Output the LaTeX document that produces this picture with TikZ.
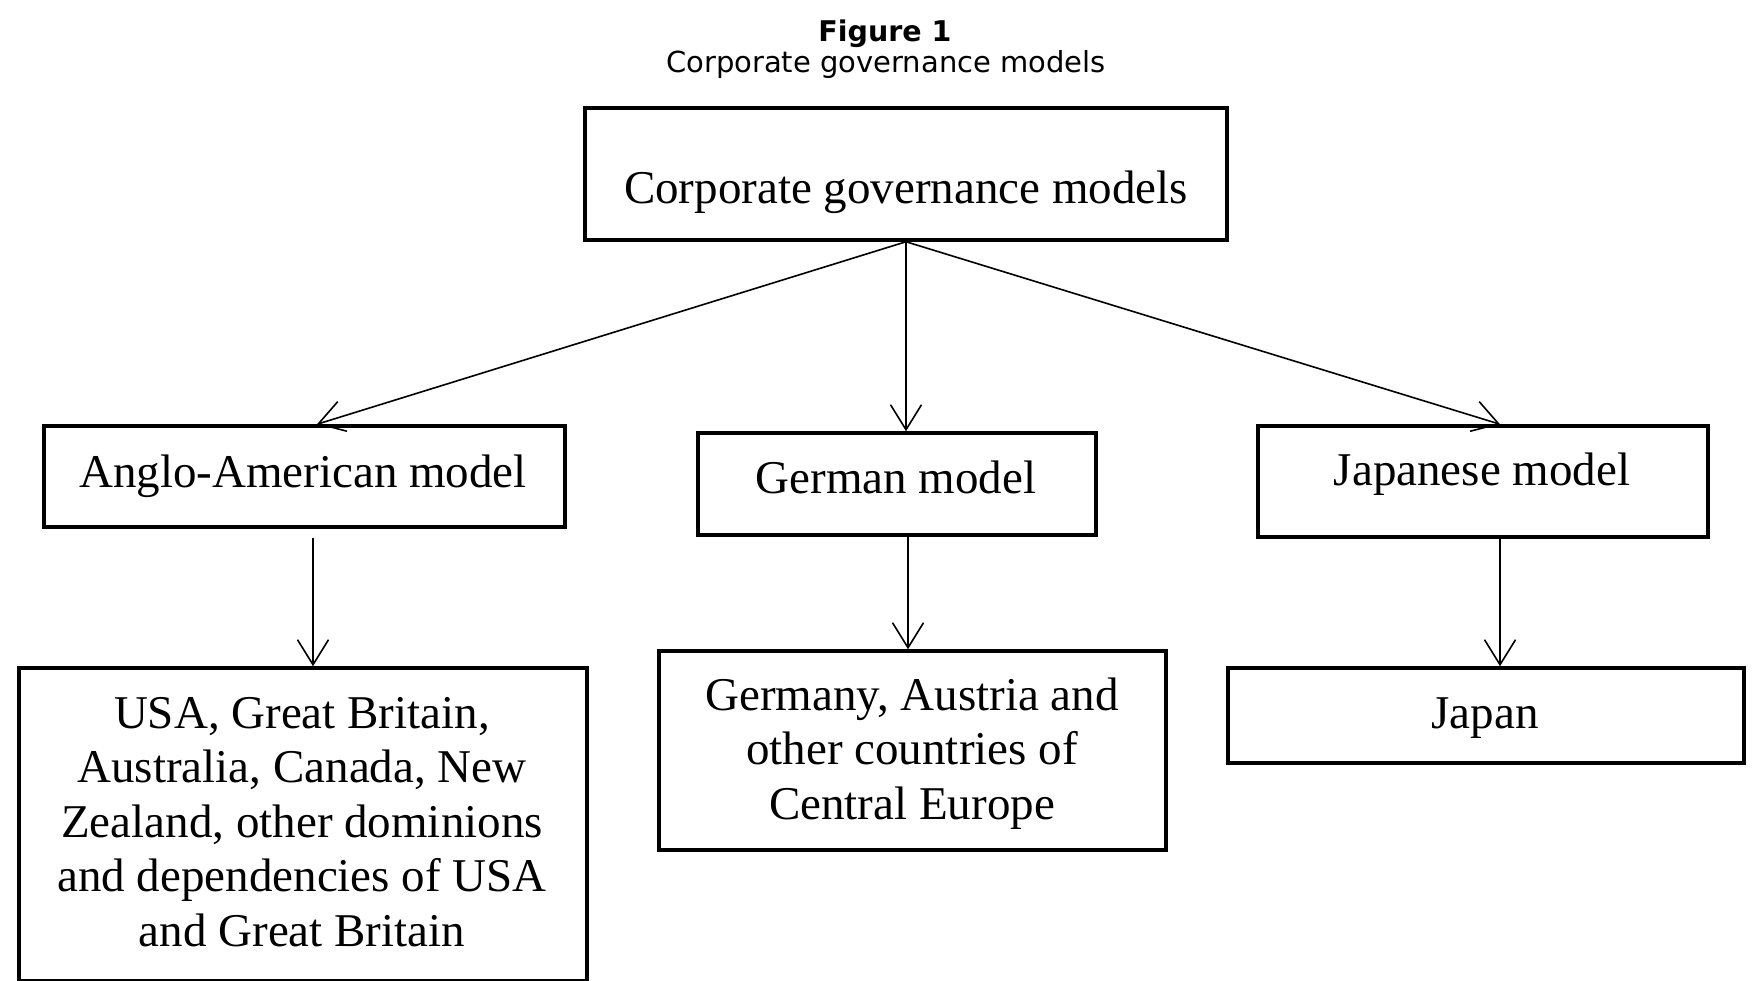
\documentclass[tikz,border=0pt]{standalone}
\usepackage{fontspec}
\setmainfont{Liberation Serif}
\newfontfamily\titlefont{DejaVu Sans}
\usetikzlibrary{arrows.meta,calc}
\begin{document}
\begin{tikzpicture}[x=1pt,y=-1pt,
  box/.style={draw, line width=3.5pt, inner sep=0pt},
  lbl/.style={inner sep=0pt, anchor=base, font=\fontsize{47}{54.5}\selectfont},
  ttl/.style={inner sep=0pt, anchor=base},
  conn/.style={line width=1.6pt, -{Straight Barb[length=25pt,width=31pt]}}]
\useasboundingbox (0,0) rectangle (1755,981);

% title
\node[ttl, font=\titlefont\bfseries\fontsize{28.5}{31}\selectfont] (fig) at (885,42) {Figure 1};
\node[ttl, font=\titlefont\fontsize{29}{31}\selectfont] (sub) at (886,73) {Corporate governance models};

% boxes
\node[box, minimum width=642pt, minimum height=132pt] (top) at (906,174) {};
\node[box, minimum width=521pt, minimum height=101pt] (anglo) at (304.5,476.5) {};
\node[box, minimum width=398pt, minimum height=102pt] (german) at (897,484) {};
\node[box, minimum width=450pt, minimum height=111pt] (japanese) at (1483,481.5) {};
\node[box, minimum width=568pt, minimum height=313pt] (usa) at (303,824.5) {};
\node[box, minimum width=507pt, minimum height=199pt] (germany) at (912.5,750.5) {};
\node[box, minimum width=516pt, minimum height=95pt] (japan) at (1486,715.5) {};

% texts
\node[lbl] (ttop) at (906,204) {Corporate governance models};
\node[lbl] (tanglo) at (303,487) {Anglo-American model};
\node[lbl] (tgerman) at (896,493) {German model};
\node[lbl] (tjapanese) at (1482,485) {Japanese model};
\node[lbl] (tusa) at (302,728) {\parbox[t]{600pt}{\centering USA, Great Britain,\\ Australia, Canada, New\\ Zealand, other dominions\\ and dependencies of USA\\ and Great Britain}};
\node[lbl] (tgermany) at (912,710) {\parbox[t]{520pt}{\centering Germany, Austria and\\ other countries of\\ Central Europe}};
\node[lbl] (tjapan) at (1485,728) {Japan};

% connectors
\draw[conn] (top.south) -- ([xshift=12.5pt]anglo.north);
\draw[conn] (top.south) -- (top.south |- german.north);
\draw[conn] (top.south) -- ([xshift=17pt]japanese.north);
\draw[conn] ([xshift=8.5pt,yshift=-9pt]anglo.south) -- ([xshift=10pt]usa.north);
\draw[conn] ([xshift=11pt]german.south) -- ([xshift=-4.5pt]germany.north);
\draw[conn] ([xshift=17pt]japanese.south) -- ([xshift=14pt]japan.north);
\end{tikzpicture}
\end{document}
